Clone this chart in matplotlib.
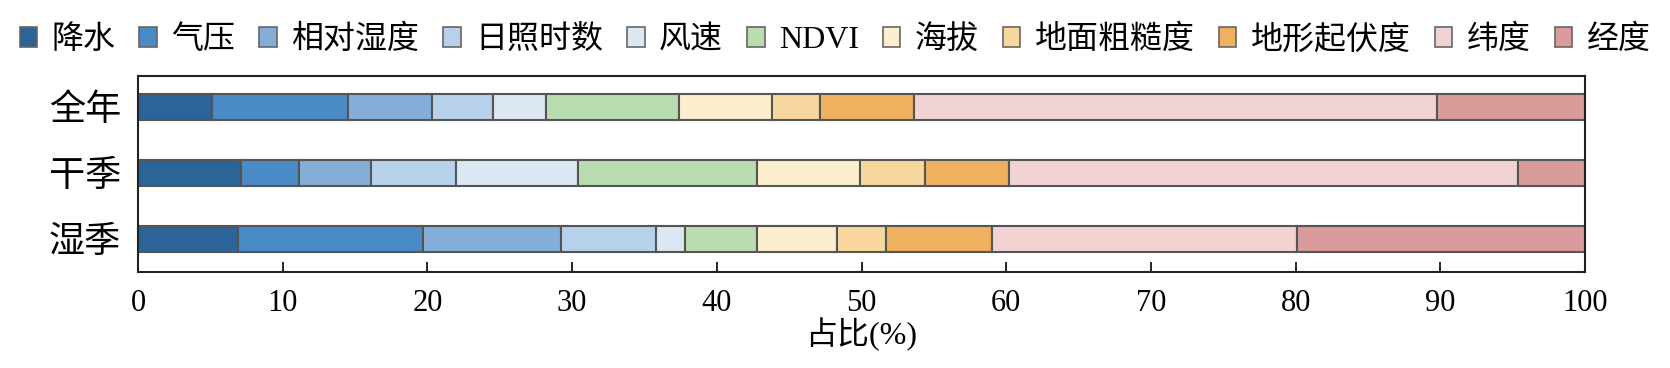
import numpy as np
import matplotlib
matplotlib.use('Agg')
import matplotlib.pyplot as plt
from matplotlib.patches import Patch

plt.rcParams['font.family'] = ['Liberation Serif', 'Noto Sans CJK SC']

periods = ['全年', '干季', '湿季']
factors = ['降水', '气压', '相对湿度', '日照时数', '风速', 'NDVI',
           '海拔', '地面粗糙度', '地形起伏度', '纬度', '经度']
# share of each factor (%) per period
annual = [5.1, 9.4, 5.8, 4.2, 3.7, 9.2, 6.4, 3.3, 6.5, 36.2, 10.2]
dry = [7.1, 4.0, 5.0, 5.9, 8.4, 12.4, 7.1, 4.5, 5.8, 35.2, 4.6]
wet = [6.9, 12.8, 9.5, 6.6, 2.0, 5.0, 5.5, 3.4, 7.3, 21.1, 19.9]
colors = ['#2a6499', '#4a8ac6', '#84aed8', '#b8d1ea', '#dce7f4', '#b9dcb0',
          '#fbefcf', '#f8d79e', '#efb060', '#f1d3d3', '#d99c9a']

data = np.array([annual, dry, wet])
y = np.arange(len(periods))

fig = plt.figure(figsize=(16.7, 3.68), dpi=100)
ax = fig.add_axes([138/1670, 96/368, (1585-138)/1670, 196/368])

left = np.zeros(len(periods))
for i, name in enumerate(factors):
    ax.barh(y, data[:, i], left=left, height=0.4, color=colors[i],
            edgecolor='#555555', linewidth=1.5, label=name)
    left += data[:, i]

ax.set_xlim(0, 100)
ax.set_ylim(2.5, -0.47)
ax.set_yticks(y)
ax.set_yticklabels(periods, fontsize=26)
ax.set_xticks(np.arange(0, 101, 10))
ax.tick_params(axis='x', direction='in', length=7, width=1.2, labelsize=22, pad=12)
ax.tick_params(axis='y', length=0, pad=12)
for s in ax.spines.values():
    s.set_linewidth(1.5)
    s.set_color('#222222')
ax.set_xlabel('占比(%)', fontsize=23, labelpad=0)

handles = [Patch(facecolor=c, edgecolor='#666666', linewidth=1.2) for c in colors]
fig.legend(handles, factors, loc='center', bbox_to_anchor=(0.5, 1 - 40/368),
           ncol=len(factors), frameon=False, fontsize=23, handlelength=0.55,
           handleheight=0.55, handletextpad=0.45, columnspacing=0.75)

fig.savefig('out.png', dpi=100)
